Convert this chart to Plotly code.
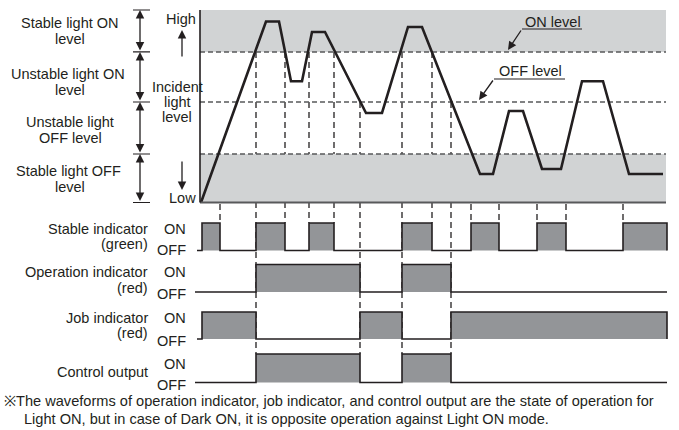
import plotly.graph_objects as go

W, H = 679, 430
INK = "#231f20"
FILL = "#939598"
BAND = "#d1d3d4"
DASH = "#58595b"
FONT = "Liberation Sans, Arial, sans-serif"

# ---------------- data ----------------
# analog incident light level (time in arbitrary units, level in % of range)
wave_t = [1, 66, 79, 91, 102, 112, 125, 166, 182, 208, 222, 280, 293, 309, 323, 342, 361, 382, 403, 429, 463]
wave_level = [0, 94, 94, 63, 63, 88.6, 88.6, 46.5, 46.5, 91.2, 91.2, 14.8, 14.8, 47.5, 47.5, 17.4, 17.4, 63, 63, 14.8, 14.8]

LOW, STABLE_OFF, OFF_LEVEL, ON_LEVEL, HIGH = 0, 25.2, 52.2, 78.2, 100
T_END = 466

# threshold crossings (time, level crossed)
cross_t = [20, 56, 85, 109, 134, 160, 202, 232, 251, 271, 299, 337, 366, 423]
cross_level = [25.2, 78.2, 78.2, 78.2, 78.2, 52.2, 78.2, 78.2, 52.2, 25.2, 25.2, 25.2, 25.2, 25.2]

# digital outputs: change times and states (1 = ON, 0 = OFF)
stable_t = [-3, 2, 20, 56, 85, 109, 134, 202, 232, 271, 299, 337, 366, 423]
stable_s = [0, 1, 0, 1, 0, 1, 0, 1, 0, 1, 0, 1, 0, 1]
operation_t = [-5, 56, 160, 202, 251]
operation_s = [0, 1, 0, 1, 0]
job_t = [-3, 2, 56, 160, 202, 251]
job_s = [0, 1, 0, 1, 0, 1]
control_t = [-5, 56, 160, 202, 251]
control_s = [0, 1, 0, 1, 0]
SIG_END = 467

row_names = [("Stable indicator", "(green)"), ("Operation indicator", "(red)"),
             ("Job indicator", "(red)"), ("Control output", None)]
state_labels = ["ON", "OFF"]

# ---------------- helpers ----------------
def py(y):
    return 1 - y / H

def pxp(x):
    return x / W

def lin(v, v0, p0, v1, p1):
    return p0 + (v - v0) * (p1 - p0) / (v1 - v0)

def domain(v0, p0, v1, p1, lo, hi):
    a = py(lin(lo, v0, p0, v1, p1))
    b = py(lin(hi, v0, p0, v1, p1))
    return [min(a, b), max(a, b)]

# analog axis pixel anchors
A_P0, A_P100 = 202.5, 10.0
def level_px(v):
    return lin(v, 0, A_P0, 100, A_P100)

# digital rows: (ON pixel, OFF pixel)
rows_px = [(223, 250.5), (264.5, 292), (312, 339), (354, 382.5)]
signals = [(stable_t, stable_s), (operation_t, operation_s), (job_t, job_s), (control_t, control_s)]

fig = go.Figure()

fig.add_trace(go.Scatter(x=wave_t, y=wave_level, mode="lines",
                         line=dict(color=INK, width=2.6), xaxis="x", yaxis="y",
                         hoverinfo="skip", showlegend=False))

for i, (ts, ss) in enumerate(signals):
    xs, ys = list(ts), list(ss)
    xs.append(SIG_END)
    ys.append(ss[-1])
    if ss[-1] == 1:
        xs.append(SIG_END)
        ys.append(0)
    fig.add_trace(go.Scatter(x=xs, y=ys, mode="lines", line_shape="hv",
                             line=dict(color=INK, width=1.6), fill="tozeroy",
                             fillcolor=FILL, xaxis="x", yaxis="y%d" % (i + 2),
                             hoverinfo="skip", showlegend=False))

shapes = []
# gray bands
shapes.append(dict(type="rect", xref="x", yref="y", x0=0, x1=T_END, y0=ON_LEVEL, y1=HIGH,
                   fillcolor=BAND, line=dict(width=0), layer="below"))
shapes.append(dict(type="rect", xref="x", yref="y", x0=0, x1=T_END, y0=LOW, y1=STABLE_OFF,
                   fillcolor=BAND, line=dict(width=0), layer="below"))
# threshold lines
for lv in [ON_LEVEL, OFF_LEVEL, STABLE_OFF]:
    shapes.append(dict(type="line", xref="x", yref="y", x0=0, x1=T_END, y0=lv, y1=lv,
                       line=dict(color=DASH, width=1.4, dash="5px,3px"), layer="below"))
# vertical crossing lines
for t, lv in zip(cross_t, cross_level):
    bottom = rows_px[3][0] if t in operation_t else rows_px[0][0]
    shapes.append(dict(type="line", xref="x", yref="paper", x0=t, x1=t,
                       y0=py(level_px(lv)), y1=py(bottom),
                       line=dict(color=INK, width=1.3, dash="6px,4px"), layer="below"))
# axes lines
shapes.append(dict(type="line", xref="x", yref="y", x0=0, x1=T_END, y0=LOW, y1=LOW,
                   line=dict(color=DASH, width=2.2)))
shapes.append(dict(type="line", xref="x", yref="y", x0=0, x1=0, y0=LOW, y1=HIGH,
                   line=dict(color=INK, width=1.6)))
# dimension ticks
dim_levels = [LOW, STABLE_OFF, OFF_LEVEL, ON_LEVEL, HIGH]
for lv in dim_levels:
    shapes.append(dict(type="line", xref="x", yref="y", x0=-67, x1=-50, y0=lv, y1=lv,
                       line=dict(color=INK, width=1.2)))
# leader underlines
shapes.append(dict(type="line", xref="paper", yref="paper", x0=pxp(522), x1=pxp(582),
                   y0=py(29), y1=py(29), line=dict(color=INK, width=1.2)))
shapes.append(dict(type="line", xref="paper", yref="paper", x0=pxp(494), x1=pxp(565),
                   y0=py(79), y1=py(79), line=dict(color=INK, width=1.2)))

ann = []
def text(t, x, y, anchor="center", size=14.5):
    ann.append(dict(text=t, x=pxp(x), y=py(y), xref="paper", yref="paper",
                    xanchor=anchor, yanchor="middle", showarrow=False,
                    font=dict(family=FONT, size=size, color=INK)))

def arrow_px(hx, hy, tx, ty):
    ann.append(dict(text="", x=pxp(hx), y=py(hy), xref="paper", yref="paper",
                    ax=tx - hx, ay=ty - hy, axref="pixel", ayref="pixel", showarrow=True,
                    arrowhead=2, arrowsize=1.3, arrowwidth=1.3, arrowcolor=INK))

# dimension double arrows
for lo, hi in zip(dim_levels[:-1], dim_levels[1:]):
    ann.append(dict(text="", x=-60, y=hi, xref="x", yref="y", ax=-60, ay=lo,
                    axref="x", ayref="y", showarrow=True, arrowside="end+start",
                    arrowhead=2, startarrowhead=2, arrowsize=1.3, startarrowsize=1.3,
                    arrowwidth=1.3, arrowcolor=INK))

# left labels
text("Stable light ON", 70, 23)
text("level", 70, 39)
text("Unstable light ON", 68, 74)
text("level", 70, 90)
text("Unstable light", 70, 122)
text("OFF level", 70, 138)
text("Stable light OFF", 68, 171)
text("level", 70, 187)

text("High", 198, 19, anchor="right")
text("Low", 198, 198, anchor="right")
text("Incident", 177, 87)
text("light", 177, 102)
text("level", 177, 117)
arrow_px(182, 30, 182, 58)
arrow_px(182, 190, 182, 160)

text("ON level", 553, 22)
text("OFF level", 530, 71)
arrow_px(508, 50, 522, 29)
arrow_px(479, 100, 494, 79)

# digital row labels
label_y = [(229, 244), (272, 288), (318, 333), (372, None)]
onoff_y = [(229, 250), (272, 294), (318, 341), (364, 385)]
for (n1, n2), (y1, y2), (yon, yoff) in zip(row_names, label_y, onoff_y):
    text(n1, 150, y1, anchor="right")
    if n2:
        text(n2, 150, y2, anchor="right")
    text(state_labels[0], 188, yon, anchor="right")
    text(state_labels[1], 188, yoff, anchor="right")

text("※The waveforms of operation indicator, job indicator, and control output are the state of operation for", 2, 401, anchor="left", size=14.6)
text("Light ON, but in case of Dark ON, it is opposite operation against Light ON mode.", 22, 419, anchor="left", size=14.6)

layout = dict(
    width=W, height=H, margin=dict(l=0, r=0, t=0, b=0),
    paper_bgcolor="white", plot_bgcolor="rgba(0,0,0,0)",
    xaxis=dict(range=[-200, 479], domain=[0, 1], visible=False, anchor="y"),
    yaxis=dict(range=[-5, 105], domain=domain(0, A_P0, 100, A_P100, -5, 105), visible=False),
    shapes=shapes, annotations=ann, showlegend=False,
)
for i, (pon, poff) in enumerate(rows_px):
    layout["yaxis%d" % (i + 2)] = dict(range=[-0.15, 1.15], domain=domain(0, poff, 1, pon, -0.15, 1.15),
                                       visible=False, anchor="x")
fig.update_layout(**layout)
fig.write_html("out.html", config={"displayModeBar": False, "staticPlot": True},
               post_script="document.body.style.margin='0px';")
